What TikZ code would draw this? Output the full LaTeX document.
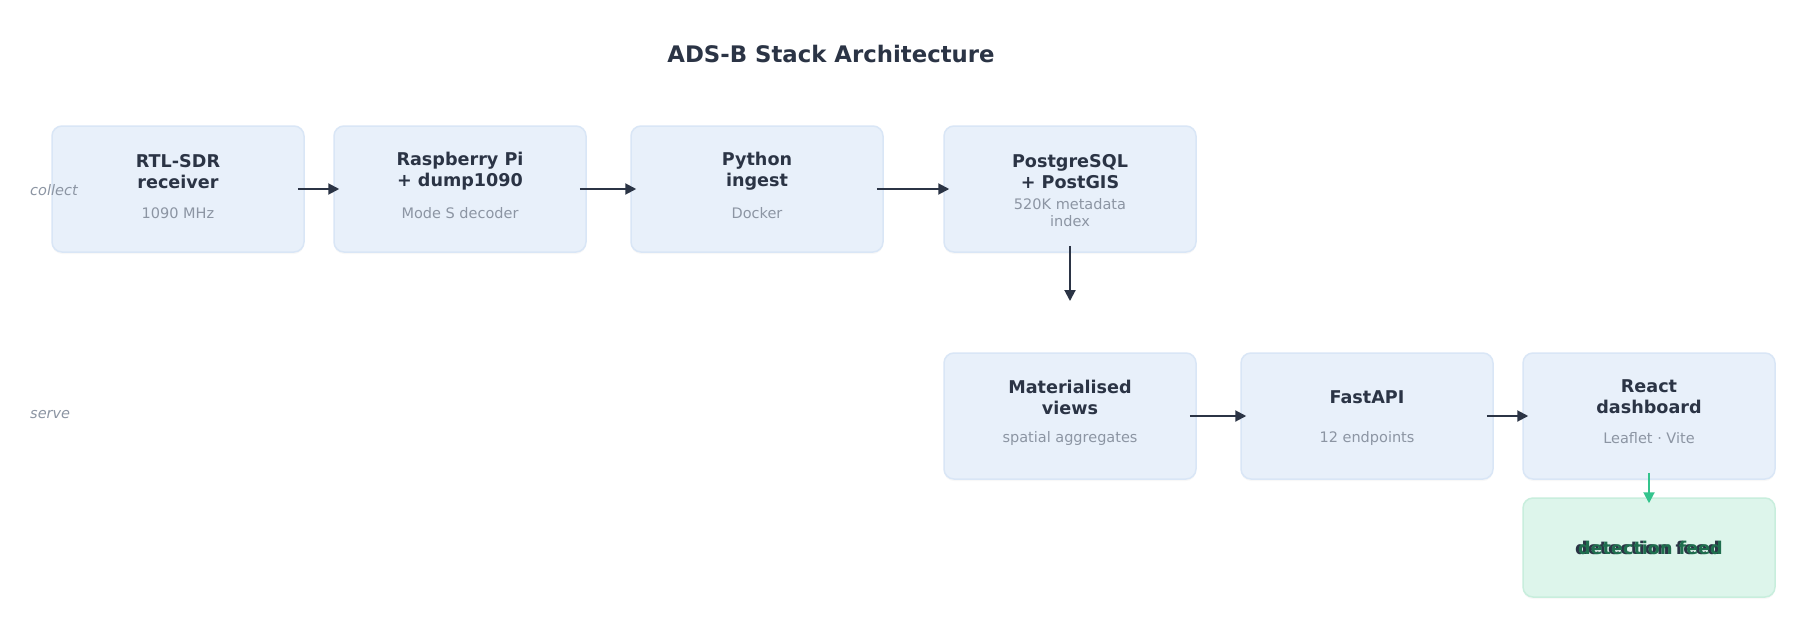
\documentclass[tikz,border=0pt]{standalone}
\usepackage{fontspec}
\setmainfont{DejaVu Sans}
\usetikzlibrary{arrows.meta,shadows}
\definecolor{ink}{HTML}{2B3445}
\definecolor{subc}{HTML}{8C95A3}
\definecolor{boxfill}{HTML}{E8F0FA}
\definecolor{boxline}{HTML}{D9E6F6}
\definecolor{gfill}{HTML}{DDF5EB}
\definecolor{gline}{HTML}{C8EEDD}
\definecolor{garrow}{HTML}{34C48D}
\definecolor{gtext}{HTML}{1F6E4E}
\begin{document}
\begin{tikzpicture}[x=1pt,y=-1pt,
  card/.style={draw=boxline, line width=1.5pt, fill=boxfill, rounded corners=10pt,
    minimum width=252pt, minimum height=126pt, inner sep=0pt,
    drop shadow={opacity=0.05, shadow xshift=0pt, shadow yshift=-2pt}},
  gcard/.style={card, draw=gline, fill=gfill, minimum height=99pt},
  ttl/.style={text=ink, font=\fontsize{17.6}{21}\selectfont\bfseries, align=center, inner sep=0pt},
  subt/.style={text=subc, font=\fontsize{14.5}{17.5}\selectfont, align=center, inner sep=0pt},
  lane/.style={text=subc, font=\fontsize{14.5}{17}\selectfont\itshape, anchor=west, inner sep=0pt},
  flow/.style={draw=ink, line width=2pt, -{Triangle[length=11pt,width=11pt]}},
  gflow/.style={draw=garrow, line width=2pt, -{Triangle[length=11pt,width=11pt]}},
]
\useasboundingbox[fill=white] (0,0) rectangle (1813,643);

\node[text=ink, font=\fontsize{22.8}{27}\selectfont\bfseries, inner sep=0pt] (title) at (831,54) {ADS-B Stack Architecture};

% row 1
\node[card] (b1) at (178,189) {};
\node[card] (b2) at (460,189) {};
\node[card] (b3) at (757,189) {};
\node[card] (b4) at (1070,189) {};
% row 2
\node[card] (b5) at (1070,416) {};
\node[card] (b6) at (1367,416) {};
\node[card] (b7) at (1649,416) {};
\node[gcard] (b8) at (1649,547.5) {};

\node[lane] (lcollect) at (30,190) {collect};
\node[lane] (lserve) at (30,415) {serve};

\node[ttl] (t1) at (178,171.5) {RTL-SDR\\receiver};
\node[subt] (s1) at (178,213) {1090 MHz};
\node[ttl] (t2) at (460,171.5) {Raspberry Pi\\+ dump1090};
\node[subt] (s2) at (460,213) {Mode S decoder};
\node[ttl] (t3) at (757,171.5) {Python\\ingest};
\node[subt] (s3) at (757,213) {Docker};
\node[ttl] (t4) at (1070,171.5) {PostgreSQL\\+ PostGIS};
\node[subt] (s4) at (1070,212.5) {520K metadata\\index};

\node[ttl] (t5) at (1070,397) {Materialised\\views};
\node[subt] (s5) at (1070,438.5) {spatial aggregates};
\node[ttl] (t6) at (1367,397) {FastAPI};
\node[subt] (s6) at (1367,438.5) {12 endpoints};
\node[ttl] (t7) at (1649,397) {React\\dashboard};
\node[subt] (s7) at (1649,438.5) {Leaflet · Vite};

\node[ttl] (t8a) at (1647.5,547.5) {detection feed};
\node[ttl, text=gtext] (t8b) at (1650.5,547.5) {detection feed};

\coordinate (d4) at (1070,301);
\draw[flow] ([xshift=-7pt]b1.east) -- ([xshift=6pt]b2.west);
\draw[flow] ([xshift=-7pt]b2.east) -- ([xshift=6pt]b3.west);
\draw[flow] ([xshift=-7pt]b3.east) -- ([xshift=6pt]b4.west);
\draw[flow] ([yshift=7pt]b4.south) -- (d4);
\draw[flow] ([xshift=-7pt]b5.east) -- ([xshift=6pt]b6.west);
\draw[flow] ([xshift=-7pt]b6.east) -- ([xshift=6pt]b7.west);
\draw[gflow] ([yshift=7pt]b7.south) -- ([yshift=-6pt]b8.north);
\end{tikzpicture}
\end{document}
